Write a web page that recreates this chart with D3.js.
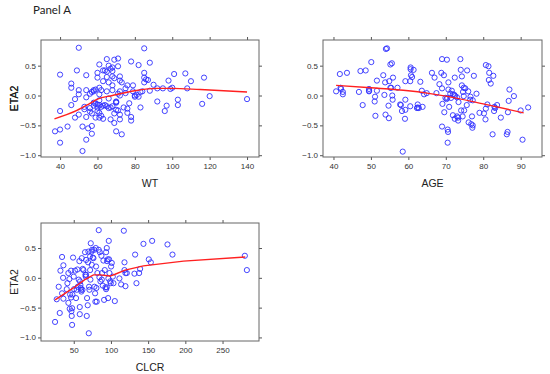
<!DOCTYPE html>
<html lang="en">
<head>
<meta charset="utf-8">
<style>
  body { margin: 0; background: #fff; }
  svg text { font-family: "Liberation Sans", Arial, sans-serif !important; }
  .tick text { fill: #333; font-size: 8px; }
  .tick line { stroke: #555; }
</style>
</head>
<body>
<script type="text/javascript" src="https://d3js.org/d3.v7.min.js"></script>
<script>
// ---- data ----
var wt = [37.3,40,40,40,40,44,46,46,46,48,48,49,50,50,50,50,52,52,54,54,54,54,54,53,55,56,56,57,57,57,58,58,58,59,59,60,60,60,60,61,61,61,61,61,61,61,62,62,63,63,63,63,64,65,65,65,65,65,66,66,66,67,67,68,68,68,68,68,69,69,69,69,70,70,70,71,71,72,72,72,72,72,72,73,73,75,75,76,76,77,78,78,78,79,79,80,80,82,82,83,84,85,85,85,85,86,87,88,88,90,92,92,95,96,97,98,99,100,101,103,103,107,108,110,116,117,120,140,70,70,71,64,58,62,67,60,56,66,68,74,71,81,83,57,59,53,76];
var wtEta = [-0.6,-0.26,0.35,-0.57,-0.79,-0.52,0.2,0.13,-0.16,-0.06,-0.37,0.42,0.8,0.09,0.02,-0.32,-0.52,-0.93,0.34,0.09,-0.03,-0.36,-0.74,-0.19,-0.55,0.03,-0.21,-0.3,-0.51,-0.64,0.09,0.07,-0.17,-0.14,-0.37,0.38,0.3,-0.2,-0.26,0.52,0.13,0.02,-0.08,-0.16,-0.29,-0.37,0.09,-0.34,0.24,0.42,-0.17,-0.39,0.42,0.61,0.4,0.31,0.07,-0.18,0.5,-0.05,-0.21,0.45,-0.4,0.47,0.32,0.17,0.09,-0.18,0.6,0.29,-0.3,-0.46,-0.11,-0.24,-0.6,0.62,0.49,0.32,0.25,0.07,0,-0.32,-0.4,0.22,-0.65,0.12,0.04,-0.22,-0.29,-0.13,0.57,-0.36,-0.42,0.17,0.07,0,-0.02,0.51,-0.02,-0.2,0.07,0.79,0.38,0.3,0.22,0.27,0.26,0.55,0.08,0.18,0.12,-0.1,0.12,-0.26,-0.17,0.25,0.11,0.13,0.36,-0.07,-0.16,0.37,0.12,0.24,-0.14,0.3,-0.01,-0.06,-0.1,-0.12,-0.25,-0.16,-0.12,-0.19,-0.2,-0.15,-0.27,0.22,0.41,-0.2,0.03,0.01,0.06,0.06,0.1,-0.23,0.17];
var wtFitX = [37, 49, 56, 60, 68, 80, 92, 100, 115, 140];
var wtFitY = [-0.39, -0.25, -0.13, -0.06, 0.0, 0.08, 0.12, 0.12, 0.1, 0.06];

var age = [40.7,41.7,41.9,42.0,42.5,42.5,43.6,46.8,47.2,47.8,48.6,49.5,49.5,49.5,50.1,51.0,51.1,51.2,51.6,51.6,53.3,53.6,53.8,53.9,54.0,54.3,54.7,54.8,54.9,55.2,55.2,55.4,55.6,55.7,55.8,55.9,57.1,57.8,58.0,58.3,58.5,59.1,59.2,59.2,59.2,60.5,60.5,60.6,60.6,60.7,61.0,61.4,62.3,62.5,62.5,62.8,63.2,63.6,63.8,64.2,64.9,66.3,67.0,67.5,68.3,68.8,69.0,69.0,69.1,69.0,69.5,69.6,69.9,70.3,70.4,70.2,70.5,70.6,70.5,70.7,70.7,70.9,71.2,71.4,71.6,71.9,71.9,72.3,72.4,72.4,72.5,73.0,73.0,73.3,73.3,73.4,73.9,74.0,74.1,74.3,74.3,74.5,74.6,74.8,74.8,74.9,75.2,75.6,75.7,76.0,76.1,76.5,76.6,76.8,77.0,77.1,77.2,77.2,77.5,78.2,79.0,80.2,80.6,80.7,80.7,81.1,81.4,81.5,81.6,82.0,82.5,82.7,82.9,83.0,83.2,83.7,84.7,86.3,86.5,86.6,86.8,87.0,88.2,90.0,90.5,92.0];
var ageEta = [0.07,0.36,0.13,0.11,0.06,0.02,0.38,0.06,0.41,-0.16,0.42,0.11,0.08,0.07,0.56,-0.1,-0.02,-0.34,0.25,0.08,0.34,0.01,0.22,-0.32,0.78,0.79,-0.17,-0.38,0.24,0.13,0.52,0.13,0.54,0,-0.07,0.3,0.13,-0.15,-0.16,-0.26,-0.94,-0.39,-0.07,-0.24,0.24,-0.18,0.24,0.47,0.44,0.34,0.31,0.43,-0.21,-0.15,-0.2,-0.21,0.23,0.08,-0.19,0.02,0.04,0.38,0.3,0.04,0.19,0.38,0.12,0.61,-0.14,-0.52,0.34,-0.28,-0.04,0.6,-0.04,-0.06,-0.57,-0.61,-0.79,0.22,0.1,-0.19,0.03,-0.04,0.08,0.02,-0.33,0.01,0.3,-0.39,-0.01,-0.35,-0.03,-0.42,-0.37,-0.11,0.61,0.43,-0.25,0.32,0.17,-0.35,0.06,0.13,-0.01,-0.25,0.12,-0.16,0.42,0.07,-0.45,-0.07,-0.02,-0.48,-0.35,-0.54,-0.5,-0.08,0.33,0.03,-0.29,-0.3,-0.4,-0.22,0.51,-0.15,0.49,0.26,0.38,0.2,-0.65,0.33,-0.26,-0.19,-0.21,-0.16,-0.37,-0.65,-0.61,-0.28,-0.09,0.1,-0.01,-0.25,-0.74,-0.2];
var ageFitX = [40.7, 50, 60, 65, 70, 80, 90.8];
var ageFitY = [0.17, 0.13, 0.08, 0.04, -0.01, -0.14, -0.29];

var clcr = [24.9,27.1,29.8,31.2,32.1,34.3,34.3,35.7,36.1,36.1,40.6,41.5,42.8,42.8,44.2,44.6,45.1,46.4,46.4,46.9,47.3,47.8,47.8,48.2,49.1,50,50.4,51.8,53.1,54.0,54.9,55.4,56.7,57.6,58.1,58.1,58.5,59.0,59.4,59.9,60.3,60.8,61.7,62.1,63.0,65.2,65.7,66.1,66.6,66.6,67.5,67.9,68.8,69.3,69.7,70.2,70.6,71.1,72.0,72.0,72.4,72.9,73.8,74.2,74.7,75.6,76.5,77.4,77.8,78.7,79.1,79.6,80.0,80.5,80.9,81.8,83.6,83.6,84.5,85.0,85.9,87.2,87.7,88.1,89.0,89.9,90.8,91.7,92.6,93.5,93.5,94.4,94.4,94.8,95.7,96.2,96.6,97.1,97.5,98.0,98.9,99.8,100.2,101.1,102.5,103.4,105.2,111.4,113.7,117.3,118.2,118.2,119.5,119.5,121.3,131.6,132.5,134.3,137.9,139.2,143.7,150.9,153.6,155.4,176.0,182.7,280.0,282.7];
var clcrEta = [-0.74,-0.36,-0.15,-0.59,0.12,0.35,-0.26,0,0.21,-0.35,-0.19,-0.09,0.08,-0.42,-0.02,-0.52,-0.28,-0.33,0.12,-0.56,-0.64,-0.51,-0.79,-0.28,0.34,0.02,-0.19,0.12,-0.34,-0.2,0.14,-0.15,-0.03,0.28,-0.49,-0.61,-0.06,-0.12,-0.17,-0.2,-0.23,0.33,-0.2,0.15,0.13,0.43,0.05,0.02,0.05,0.3,-0.64,-0.34,-0.46,0.26,0.44,-0.93,-0.15,-0.2,0.36,0.13,-0.03,0.58,0.44,0.22,0.47,0.34,0.33,0.47,-0.15,-0.26,-0.4,0.5,0.19,-0.17,-0.4,0.08,0.8,0.47,0.01,0.43,-0.06,0.37,-0.03,0.08,-0.13,0.29,-0.37,0.13,-0.16,0.43,-0.19,0.5,-0.16,0.28,0.31,-0.34,-0.01,0.62,0.31,0.08,-0.06,-0.09,0.19,0.25,0.02,-0.09,-0.39,-0.01,-0.11,0.79,0.26,0.13,0.08,-0.14,0.08,0.07,0.39,-0.09,0.08,0.15,0.57,0.31,0.26,0.62,0.56,0.39,0.37,0.13];
var clcrFitX = [24.9, 49.6, 64.8, 76.5, 85.4, 98.9, 105.6, 119, 143.7, 197.5, 280.5];
var clcrFitY = [-0.37, -0.17, -0.03, 0.05, 0.05, 0.03, 0.06, 0.13, 0.2, 0.28, 0.35];

var etaTicks = [-1.0, -0.5, 0.0, 0.5];
var FONT = "'Liberation Sans', Arial, sans-serif";

// ---- drawing ----
var svg = d3.select("body").append("svg")
    .attr("width", 550)
    .attr("height", 374);

svg.append("text")
    .attr("x", 33).attr("y", 14)
    .style("font-family", "Lato, 'Open Sans', sans-serif", "important")
    .style("font-size", "11.5px")
    .attr("fill", "#222")
    .text("Panel A");

function panel(p) {
    var g = svg.append("g").attr("transform", "translate(" + p.left + "," + p.top + ")");

    var x = d3.scaleLinear().domain(p.xdom).range([0, p.w]);
    var y = d3.scaleLinear().domain(p.ydom).range([p.h, 0]);

    function clean(a) {
        a.attr("font-family", FONT);
        a.select(".domain").remove();
    }

    g.append("g").attr("transform", "translate(0," + p.h + ")")
        .call(d3.axisBottom(x).tickValues(p.xticks).tickSize(3).tickSizeOuter(0).tickPadding(3))
        .call(clean);
    g.append("g")
        .call(d3.axisTop(x).tickValues(p.xticks).tickSize(3).tickSizeOuter(0).tickFormat(""))
        .call(clean);
    g.append("g")
        .call(d3.axisLeft(y).tickValues(etaTicks).tickSize(3).tickSizeOuter(0).tickPadding(2)
            .tickFormat(d3.format(".1f")))
        .call(clean);
    g.append("g").attr("transform", "translate(" + p.w + ",0)")
        .call(d3.axisRight(y).tickValues(etaTicks).tickSize(3).tickSizeOuter(0).tickFormat(""))
        .call(clean);

    g.append("rect")
        .attr("width", p.w).attr("height", p.h)
        .attr("fill", "none").attr("stroke", "#666").attr("stroke-width", 1);

    g.selectAll("circle.pt")
        .data(d3.zip(p.xs, p.ys))
        .enter().append("circle")
        .attr("class", "pt")
        .attr("cx", function (d) { return x(d[0]); })
        .attr("cy", function (d) { return y(d[1]); })
        .attr("r", 2.6)
        .attr("fill", "none")
        .attr("stroke", "#3030ff")
        .attr("stroke-width", 0.9);

    var line = d3.line()
        .x(function (d) { return x(d[0]); })
        .y(function (d) { return y(d[1]); })
        .curve(p.curve);
    g.append("path")
        .datum(d3.zip(p.fx, p.fy))
        .attr("d", line)
        .attr("fill", "none")
        .attr("stroke", "#ff2020")
        .attr("stroke-width", 1.4);

    g.append("text")
        .attr("x", p.w / 2).attr("y", p.h + 30)
        .attr("text-anchor", "middle")
        .style("font-family", FONT)
        .style("font-size", "10.5px").attr("fill", "#222")
        .text(p.xlab);
    g.append("text")
        .attr("transform", "translate(" + (14 - p.left) + "," + (p.h / 2) + ") rotate(-90)")
        .attr("text-anchor", "middle").attr("dy", "0.35em")
        .style("font-family", FONT)
        .style("font-size", "10.5px").attr("fill", "#222")
        .text("ETA2");
}

panel({ left: 41, top: 40, w: 218, h: 117, xdom: [29.8, 146.4], ydom: [-1.03, 0.93],
        xticks: [40, 60, 80, 100, 120, 140], xs: wt, ys: wtEta, fx: wtFitX, fy: wtFitY,
        xlab: "WT", curve: d3.curveMonotoneX });
panel({ left: 323, top: 40, w: 219, h: 117, xdom: [37.2, 95.7], ydom: [-1.03, 0.93],
        xticks: [40, 50, 60, 70, 80, 90], xs: age, ys: ageEta, fx: ageFitX, fy: ageFitY,
        xlab: "AGE", curve: d3.curveMonotoneX });
panel({ left: 41, top: 223, w: 218, h: 118, xdom: [6, 299], ydom: [-1.06, 0.92],
        xticks: [50, 100, 150, 200, 250], xs: clcr, ys: clcrEta, fx: clcrFitX, fy: clcrFitY,
        xlab: "CLCR", curve: d3.curveLinear });
</script>
</body>
</html>
